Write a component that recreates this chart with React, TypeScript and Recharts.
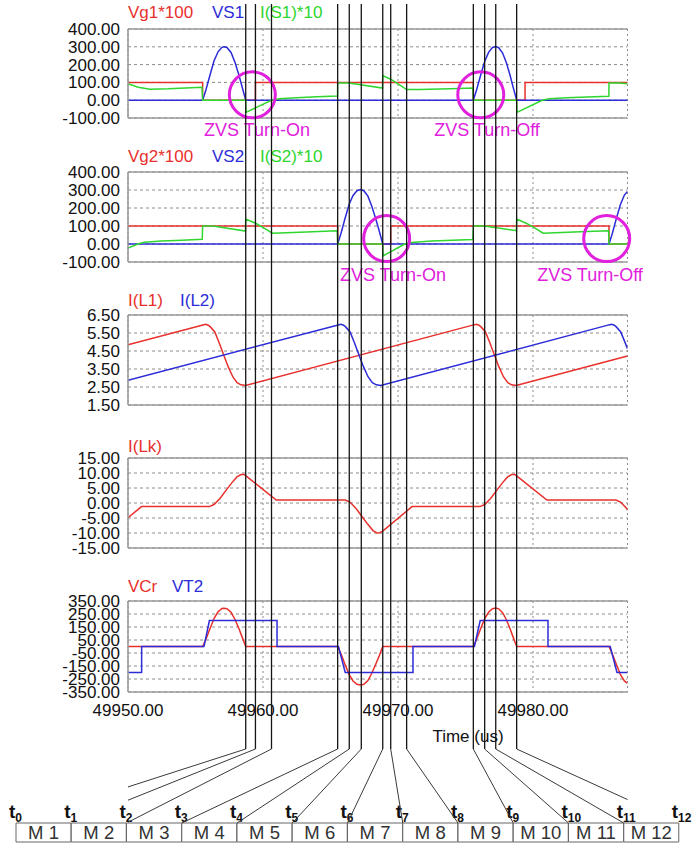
import React from 'react';
import {
  LineChart, Line, XAxis, YAxis, CartesianGrid, ReferenceLine, ReferenceDot,
  BarChart, Bar, LabelList,
} from 'recharts';

type Pt = [number, number];

// ---------- shared axis data ----------
const T_MIN = 49950;
const T_MAX = 49987;
const X_TICKS = [49950, 49960, 49970, 49980];
const PHASE_TIMES = [
  49958.72, 49959.44, 49960.63, 49965.53, 49966.39, 49967.28, 49968.87,
  49969.46, 49970.64, 49975.58, 49976.42, 49977.24, 49978.79,
];
const MODES = ['M 1', 'M 2', 'M 3', 'M 4', 'M 5', 'M 6', 'M 7', 'M 8', 'M 9', 'M 10', 'M 11', 'M 12'];

const TICKS_SW = [400, 300, 200, 100, 0, -100];
const TICKS_IL = [6.5, 5.5, 4.5, 3.5, 2.5, 1.5];
const TICKS_LK = [15, 10, 5, 0, -5, -10, -15];
const TICKS_CR = [350, 250, 150, 50, -50, -150, -250, -350];

// ---------- panel 1 ----------
const vg1: Pt[] = [
  [49950, 100], [49955.53, 100], [49955.53, 0], [49959.44, 0], [49959.44, 100],
  [49975.58, 100], [49975.58, 0], [49979.41, 0], [49979.41, 100], [49987, 100],
];
const vs1: Pt[] = [
  [49950, 0], [49955.53, 0], [49955.78, 60], [49956.07, 140], [49956.37, 220], [49956.67, 272],
  [49956.96, 297], [49957.11, 300], [49957.33, 296], [49957.63, 268], [49957.93, 212],
  [49958.22, 140], [49958.44, 78], [49958.72, 0], [49975.58, 0], [49975.83, 60], [49976.12, 140],
  [49976.42, 218], [49976.72, 270], [49977.0, 296], [49977.24, 302], [49977.46, 295],
  [49977.75, 265], [49978.03, 210], [49978.3, 140], [49978.52, 75], [49978.79, 0], [49987, 0],
];
const is1: Pt[] = [
  [49950, 92], [49950.76, 73], [49951.63, 62], [49953.0, 64], [49955.48, 73], [49955.53, 0],
  [49958.72, 0], [49958.74, -68], [49960.63, 0], [49961.2, 8], [49962.5, 14], [49964.0, 19],
  [49965.52, 24], [49965.53, 96], [49966.37, 96], [49968.85, 68], [49968.87, 138],
  [49969.46, 118], [49970.0, 92], [49970.64, 60], [49971.6, 60], [49973.85, 64],
  [49975.55, 68], [49975.58, 0], [49978.79, 0], [49978.81, -68], [49980.68, 0],
  [49981.2, 8], [49982.5, 14], [49984.0, 18], [49985.62, 22], [49985.63, 96], [49986.4, 96],
  [49987, 93],
];

// ---------- panel 2 ----------
const vg2: Pt[] = [
  [49950, 100], [49965.53, 100], [49965.53, 0], [49969.46, 0], [49969.46, 100],
  [49985.63, 100], [49985.63, 0], [49987, 0],
];
const vs2: Pt[] = [
  [49950, 0], [49965.53, 0], [49965.78, 60], [49966.07, 140], [49966.37, 218], [49966.67, 270],
  [49966.96, 296], [49967.24, 303], [49967.47, 296], [49967.77, 266], [49968.06, 210],
  [49968.35, 140], [49968.6, 75], [49968.87, 0], [49985.63, 0], [49985.88, 60],
  [49986.17, 140], [49986.47, 218], [49986.77, 272], [49987, 292],
];
const is2: Pt[] = [
  [49950, -22], [49950.73, 0], [49951.2, 10], [49952.5, 16], [49954.0, 21], [49955.5, 26],
  [49955.53, 100], [49956.3, 100], [49958.7, 72], [49958.72, 138], [49959.45, 115],
  [49959.93, 95], [49960.7, 60], [49962.74, 65], [49965.5, 74], [49965.53, 0], [49968.87, 0],
  [49968.89, -66], [49970.5, 0], [49971.0, 8], [49972.5, 16], [49975.55, 25], [49975.58, 100],
  [49976.4, 100], [49978.77, 74], [49978.79, 138], [49979.5, 115], [49980.0, 95],
  [49980.75, 60], [49983.5, 68], [49985.6, 74], [49985.63, 0], [49987, 0],
];

// ---------- panel 3 ----------
const iL1: Pt[] = [
  [49950, 4.85], [49955.55, 5.95], [49955.75, 5.98], [49955.95, 5.93], [49956.1, 5.84],
  [49956.43, 5.56], [49956.76, 4.95], [49957.09, 4.28], [49957.42, 3.63], [49957.76, 3.07],
  [49958.08, 2.74], [49958.37, 2.62], [49958.7, 2.58], [49975.6, 5.95], [49975.8, 5.98],
  [49976.0, 5.93], [49976.15, 5.84], [49976.48, 5.56], [49976.81, 4.95], [49977.14, 4.28],
  [49977.47, 3.63], [49977.81, 3.07], [49978.13, 2.74], [49978.42, 2.62], [49978.75, 2.58],
  [49987, 4.22],
];
const iL2: Pt[] = [
  [49950, 2.88], [49965.57, 5.95], [49965.77, 5.98], [49965.97, 5.93], [49966.12, 5.84],
  [49966.45, 5.56], [49966.78, 4.95], [49967.11, 4.28], [49967.44, 3.63], [49967.78, 3.07],
  [49968.1, 2.74], [49968.39, 2.62], [49968.72, 2.58], [49985.62, 5.95], [49985.82, 5.98],
  [49986.02, 5.93], [49986.17, 5.84], [49986.5, 5.56], [49986.83, 4.95], [49987, 4.62],
];

// ---------- panel 4 ----------
const iLk: Pt[] = [
  [49950, -4.9], [49951.0, -1.2], [49956.03, -1.2], [49956.37, -0.5], [49956.81, 1.5],
  [49957.26, 4.2], [49957.7, 6.8], [49958.07, 8.7], [49958.37, 9.5], [49958.59, 9.5],
  [49958.81, 8.8], [49960.98, 1.0], [49966.09, 1.0], [49966.44, 0.3], [49966.89, -1.8],
  [49967.33, -4.5], [49967.78, -7.2], [49968.15, -9.2], [49968.44, -10.0], [49968.67, -9.9],
  [49968.89, -9.3], [49971.04, -1.2], [49976.08, -1.2], [49976.42, -0.5], [49976.86, 1.5],
  [49977.31, 4.2], [49977.75, 6.8], [49978.12, 8.7], [49978.42, 9.5], [49978.64, 9.5],
  [49978.86, 8.8], [49981.03, 1.0], [49986.14, 1.0], [49986.49, 0.3], [49986.94, -1.8],
  [49987, -2.4],
];

// ---------- panel 5 ----------
const vCr: Pt[] = [
  [49950, 0], [49955.53, 0], [49955.78, 58], [49956.07, 137], [49956.37, 215], [49956.67, 267],
  [49956.96, 292], [49957.11, 295], [49957.33, 291], [49957.63, 263], [49957.93, 208],
  [49958.22, 137], [49958.44, 76], [49958.72, 0], [49965.53, 0], [49965.78, -58],
  [49966.07, -137], [49966.37, -214], [49966.67, -265], [49966.96, -291], [49967.24, -296],
  [49967.47, -291], [49967.77, -262], [49968.06, -206], [49968.35, -137], [49968.6, -74],
  [49968.87, 0], [49975.58, 0], [49975.83, 58], [49976.12, 137], [49976.42, 214],
  [49976.72, 265], [49977.0, 291], [49977.24, 296], [49977.46, 290], [49977.75, 260],
  [49978.03, 206], [49978.3, 137], [49978.52, 74], [49978.79, 0], [49985.63, 0],
  [49985.88, -58], [49986.17, -137], [49986.47, -214], [49986.77, -265], [49987, -283],
];
const vT2: Pt[] = [
  [49950, -200], [49951.01, -200], [49951.01, 0], [49955.63, 0], [49956.03, 200],
  [49961.04, 200], [49961.04, 0], [49965.59, 0], [49966.09, -200], [49971.11, -200],
  [49971.11, 0], [49975.66, 0], [49976.09, 200], [49981.11, 200], [49981.11, 0],
  [49985.72, 0], [49986.22, -200], [49987, -200],
];

// ZVS marker centres [time, value]
const zvs1: Pt[] = [[49959.21, 30], [49976.13, 30]];
const zvs2: Pt[] = [[49969.16, 30], [49985.46, 30]];

// ---------- styling / layout ----------
const RED = '#e8302c';
const BLUE = '#2c2cd8';
const GREEN = '#2ed62e';
const MAGENTA = '#e020dc';
const GRID = '#8c8c8c';
const BORDER = '#9a9a9a';
const FONT = '"Liberation Sans", Arial, Helvetica, sans-serif';
const W = 698;
const H = 843;
const PLOT_LEFT = 128;
const PLOT_RIGHT_MARGIN = 70.5;
const Y_AXIS_W = 60;

const LINE_TOP = 4;
const LINE_END = 749;
const BOX_LEFT = 16;
const BOX_RIGHT = 679;
const BOX_TOP = 823;
const BOX_H = 19;

const toData = (pts: Pt[]) => pts.map(([t, v]) => ({ t, v }));
const fmt2 = (v: number) => Number(v).toFixed(2);

type Series = { name: string; color: string; pts: Pt[]; x: number };

function Panel(props: {
  top: number; height: number; domain: [number, number]; ticks: number[];
  series: Series[]; titleY: number; circles?: Pt[]; showX?: boolean;
}) {
  const { top, height, domain, ticks, series, titleY, circles = [], showX = false } = props;
  const mTop = 40;
  const xH = showX ? 30 : 0;
  const mBottom = 30;
  const chartH = mTop + height + xH + mBottom;
  return (
    <>
      <div style={{ position: 'absolute', left: 0, top: top - mTop }}>
        <LineChart
          width={W}
          height={chartH}
          margin={{ top: mTop, right: PLOT_RIGHT_MARGIN, bottom: mBottom, left: PLOT_LEFT - Y_AXIS_W }}
        >
          <CartesianGrid horizontal vertical={false} stroke={GRID} strokeDasharray="3 3" />
          <CartesianGrid horizontal={false} vertical stroke={GRID} strokeDasharray="2 3" />
          <XAxis
            type="number" dataKey="t" domain={[T_MIN, T_MAX]} ticks={X_TICKS} allowDataOverflow
            hide={!showX} height={30} axisLine={false} tickLine={false} interval={0} tickMargin={6}
            tick={{ fontSize: 17, fill: '#111' }} tickFormatter={fmt2}
          />
          <YAxis
            type="number" domain={domain} ticks={ticks} allowDataOverflow width={Y_AXIS_W}
            axisLine={{ stroke: BORDER, strokeWidth: 1.6 }} tickLine={false} interval={0}
            tick={{ fontSize: 17, fill: '#111' }} tickFormatter={fmt2}
          />
          <ReferenceLine y={domain[1]} stroke={BORDER} strokeWidth={1.6} ifOverflow="visible" />
          <ReferenceLine y={domain[0]} stroke={BORDER} strokeWidth={1.6} ifOverflow="visible" />
          {series.map((s) => (
            <Line
              key={s.name}
              data={toData(s.pts)}
              dataKey="v"
              type="linear"
              stroke={s.color}
              strokeWidth={1.5}
              dot={false}
              activeDot={false}
              isAnimationActive={false}
            />
          ))}
          {circles.map(([t, v], i) => (
            <ReferenceDot
              key={i} x={t} y={v} r={23} fill="none" stroke={MAGENTA} strokeWidth={3}
              ifOverflow="visible"
            />
          ))}
        </LineChart>
      </div>
      {series.map((s) => (
        <div
          key={'title-' + s.name}
          style={{
            position: 'absolute', left: s.x, top: titleY - 10, lineHeight: '20px',
            fontSize: 17, color: s.color, whiteSpace: 'nowrap',
          }}
        >
          {s.name}
        </div>
      ))}
    </>
  );
}

function ZvsLabel({ cx, cy, text }: { cx: number; cy: number; text: string }) {
  return (
    <div
      style={{
        position: 'absolute', left: cx - 80, width: 160, top: cy - 11, lineHeight: '22px',
        textAlign: 'center', fontSize: 18, color: MAGENTA, whiteSpace: 'nowrap',
      }}
    >
      {text}
    </div>
  );
}

const BOX_W = (BOX_RIGHT - BOX_LEFT) / MODES.length;

// phase marker lines: vertical segment in time coordinates, then a connector to the mode strip
const phaseLineData = PHASE_TIMES.map((t) => [
  { t, y: LINE_TOP },
  { t, y: LINE_END },
]);

function PhaseOverlay() {
  return (
    <div style={{ position: 'absolute', left: 0, top: 0, pointerEvents: 'none' }}>
      <LineChart width={W} height={H} margin={{ top: 0, right: PLOT_RIGHT_MARGIN, bottom: 0, left: PLOT_LEFT }}>
        <XAxis type="number" dataKey="t" domain={[T_MIN, T_MAX]} allowDataOverflow hide />
        <YAxis type="number" domain={[0, H]} reversed allowDataOverflow hide />
        {phaseLineData.map((d, i) => (
          <Line
            key={i}
            data={d}
            dataKey="y"
            type="linear"
            stroke="#151515"
            strokeWidth={1.3}
            isAnimationActive={false}
            activeDot={false}
            dot={(p: any) => {
              if (p.index !== 1) return <g key={`d${i}-${p.index}`} />;
              const cornerX = BOX_LEFT + i * BOX_W;
              return (
                <path
                  key={`d${i}-${p.index}`}
                  d={`M${p.cx},${p.cy}L${cornerX},${BOX_TOP}`}
                  stroke="#3a3a3a"
                  strokeWidth={1}
                  fill="none"
                />
              );
            }}
          />
        ))}
      </LineChart>
    </div>
  );
}

function PhaseTag({ x, y, n }: { x: number; y: number; n: number }) {
  return (
    <text x={x - 7} y={y - 5} fontWeight="bold" fontSize={19} fill="#111">
      <tspan>t</tspan>
      <tspan fontSize={12} dy={4}>{n}</tspan>
    </text>
  );
}

const modeData = MODES.map((name) => ({ name, v: 1 }));

function ModeLabel(p: any) {
  const idx = MODES.indexOf(p.value);
  const x = Number(p.x);
  const y = Number(p.y);
  const w = Number(p.width);
  const h = Number(p.height);
  return (
    <g>
      <text
        x={x + w / 2} y={y + h / 2 + 6.5} textAnchor="middle" fontSize={18.5} fill="#333"
      >
        {p.value}
      </text>
      <PhaseTag x={x} y={y} n={idx} />
      {idx === MODES.length - 1 ? <PhaseTag x={x + w} y={y} n={idx + 1} /> : null}
    </g>
  );
}

function ModeStrip() {
  const mTop = 26;
  return (
    <div style={{ position: 'absolute', left: 0, top: BOX_TOP - mTop }}>
      <BarChart
        width={W}
        height={mTop + BOX_H + 1}
        data={modeData}
        margin={{ top: mTop, right: W - BOX_RIGHT, bottom: 1, left: BOX_LEFT }}
        barCategoryGap={0}
        barGap={0}
      >
        <XAxis dataKey="name" hide />
        <YAxis type="number" domain={[0, 1]} hide />
        <Bar dataKey="v" fill="#ffffff" stroke="#666" strokeWidth={1} isAnimationActive={false}>
          <LabelList dataKey="name" content={ModeLabel} />
        </Bar>
      </BarChart>
    </div>
  );
}

export default function App() {
  return (
    <div
      style={{
        position: 'absolute', left: 0, top: 0, width: W, height: H,
        fontFamily: FONT, background: '#fff', overflow: 'hidden',
      }}
    >
      <Panel
        top={29} height={89} domain={[-100, 400]} ticks={TICKS_SW} titleY={13}
        series={[
          { name: 'Vg1*100', color: RED, pts: vg1, x: 128 },
          { name: 'VS1', color: BLUE, pts: vs1, x: 212 },
          { name: 'I(S1)*10', color: GREEN, pts: is1, x: 260 },
        ]}
        circles={zvs1}
      />
      <Panel
        top={172} height={90} domain={[-100, 400]} ticks={TICKS_SW} titleY={157}
        series={[
          { name: 'Vg2*100', color: RED, pts: vg2, x: 128 },
          { name: 'VS2', color: BLUE, pts: vs2, x: 212 },
          { name: 'I(S2)*10', color: GREEN, pts: is2, x: 260 },
        ]}
        circles={zvs2}
      />
      <Panel
        top={315} height={90} domain={[1.5, 6.5]} ticks={TICKS_IL} titleY={301}
        series={[
          { name: 'I(L1)', color: RED, pts: iL1, x: 128 },
          { name: 'I(L2)', color: BLUE, pts: iL2, x: 180 },
        ]}
      />
      <Panel
        top={458} height={90} domain={[-15, 15]} ticks={TICKS_LK} titleY={447}
        series={[{ name: 'I(Lk)', color: RED, pts: iLk, x: 128 }]}
      />
      <Panel
        top={601} height={91} domain={[-350, 350]} ticks={TICKS_CR} titleY={587} showX
        series={[
          { name: 'VCr', color: RED, pts: vCr, x: 128 },
          { name: 'VT2', color: BLUE, pts: vT2, x: 172 },
        ]}
      />
      <ZvsLabel cx={257} cy={130} text="ZVS Turn-On" />
      <ZvsLabel cx={487} cy={130} text="ZVS Turn-Off" />
      <ZvsLabel cx={393} cy={275} text="ZVS Turn-On" />
      <ZvsLabel cx={590} cy={275} text="ZVS Turn-Off" />
      <div
        style={{
          position: 'absolute', left: 468 - 60, width: 120, top: 737 - 10, lineHeight: '20px',
          textAlign: 'center', fontSize: 17, color: '#111',
        }}
      >
        Time (us)
      </div>
      <ModeStrip />
      <PhaseOverlay />
    </div>
  );
}
